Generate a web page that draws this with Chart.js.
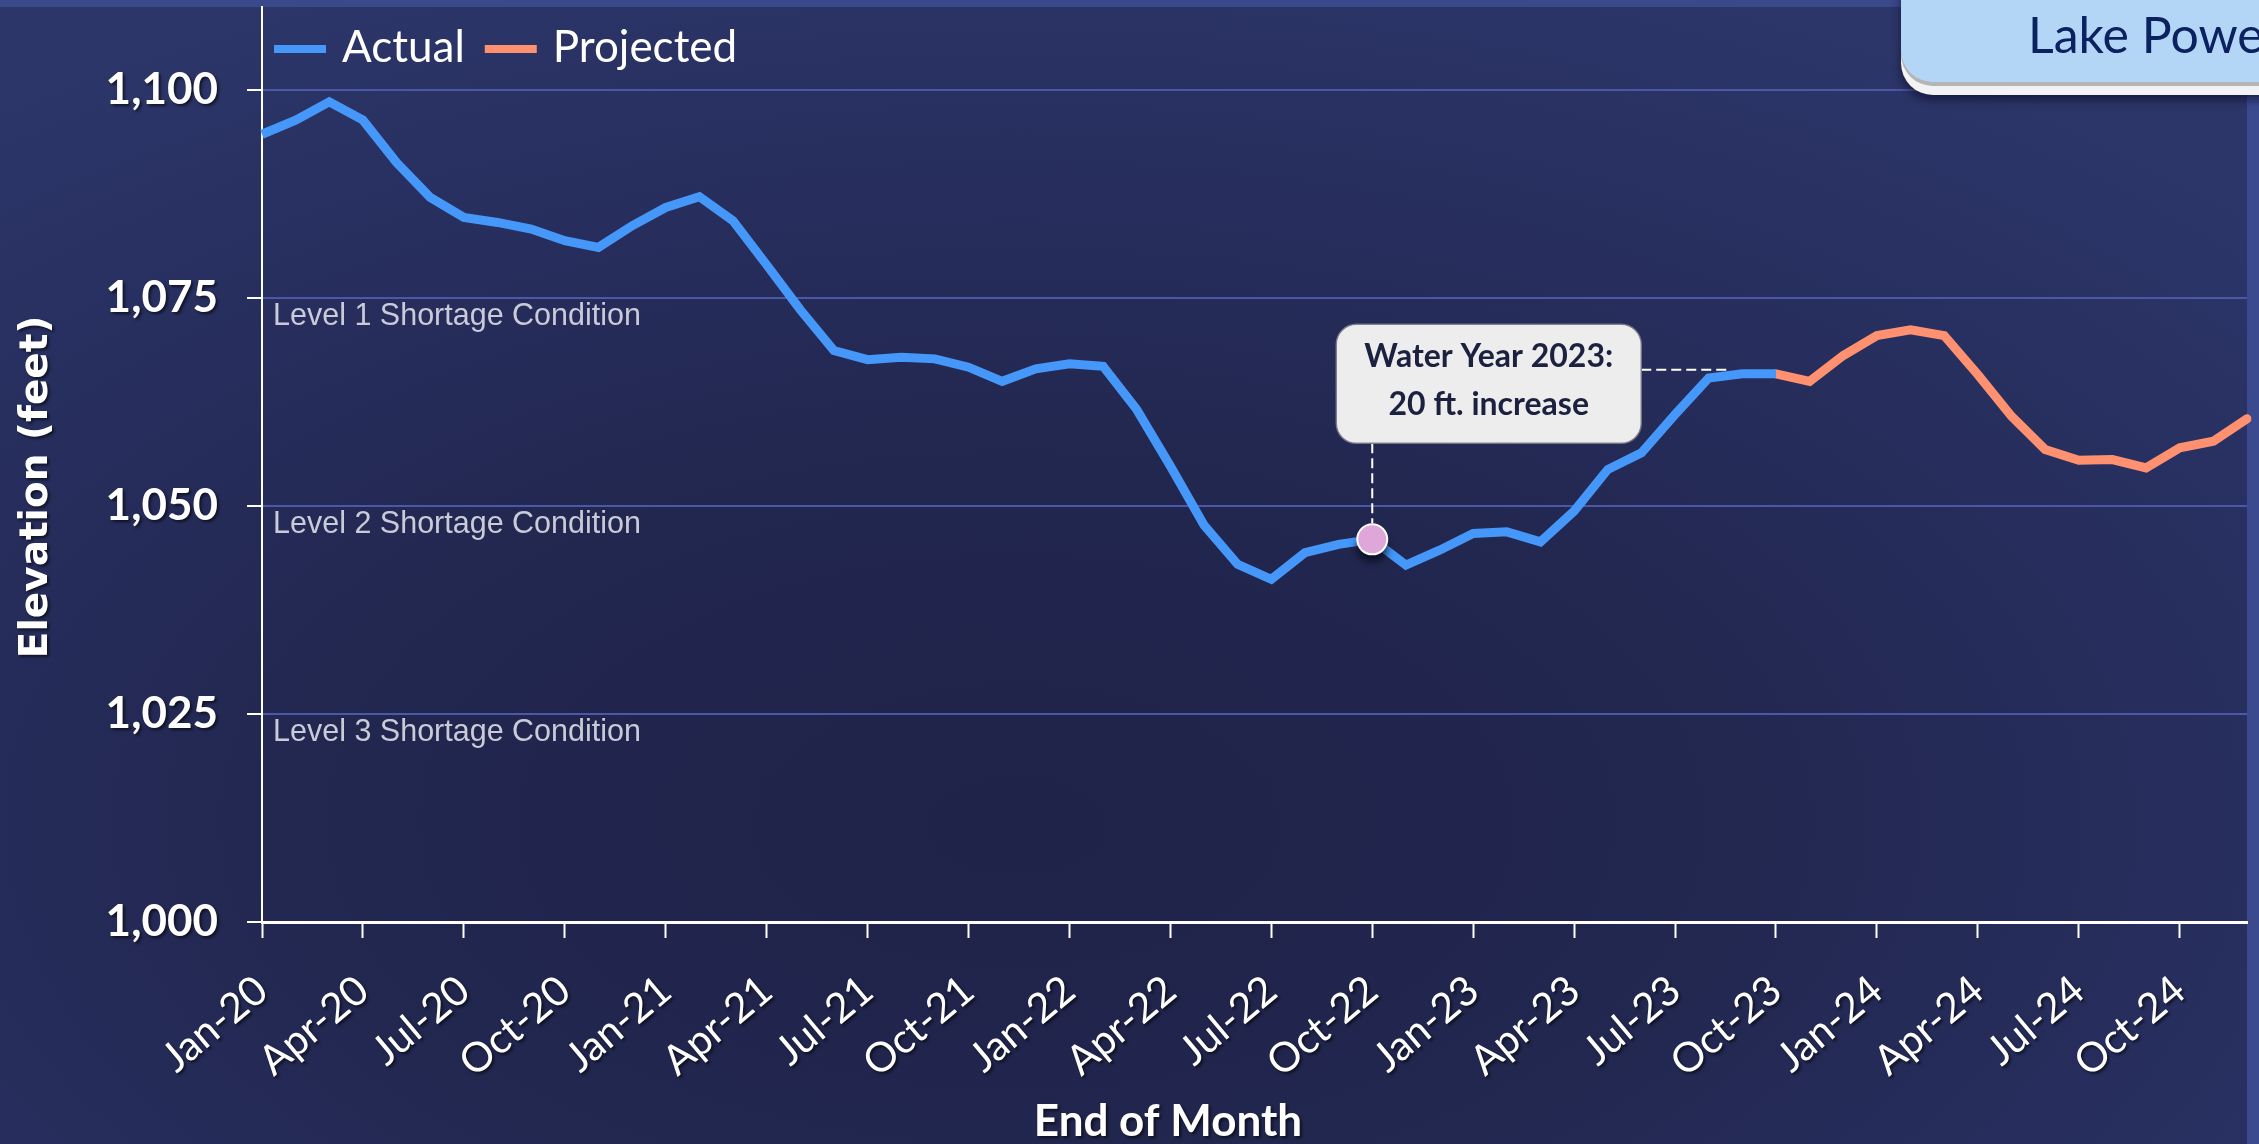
<!DOCTYPE html>
<html>
<head>
<meta charset="utf-8">
<script src="https://cdn.jsdelivr.net/npm/chart.js@4.4.1/dist/chart.umd.min.js"></script>
<style>
    html, body { margin: 0; padding: 0; width: 2259px; height: 1144px; overflow: hidden; }
    body {
        position: relative;
        background: radial-gradient(ellipse 75% 80% at 45% 72%, #1f2249 0%, #22274f 40%, #283061 78%, #2d3669 100%);
    }
    .band-top { position: absolute; left: 0; top: 0; width: 2259px; height: 7px; background: #3a488c; }
    .band-right { position: absolute; left: 2247px; top: 0; width: 12px; height: 1144px; background: #3b4a8f; }
    #chart { position: absolute; left: 0; top: 0; }
    .tab {
        position: absolute; left: 1901px; top: -30px; width: 420px; height: 112px;
        background: #b3d6f7; border-radius: 0 0 0 32px;
        box-shadow: 0 4px 0 #b5b5b5, 0 13px 0 #f3f3f3, 0 18px 10px rgba(10, 14, 40, 0.65);
    }
    .tab span {
        position: absolute; left: 127px; top: 39px; white-space: nowrap;
        font: 50px/50px Lato, sans-serif; color: #0b2160;
    }
</style>
</head>
<body>
<div class="band-top"></div>
<div class="band-right"></div>
<canvas id="chart" width="2259" height="1144"></canvas>
<div class="tab"><span>Lake Powell</span></div>

<script>
// End-of-month labels, Jan-20 .. Dec-24
const months = [
    'Jan-20', 'Feb-20', 'Mar-20', 'Apr-20', 'May-20', 'Jun-20', 'Jul-20', 'Aug-20', 'Sep-20', 'Oct-20', 'Nov-20', 'Dec-20',
    'Jan-21', 'Feb-21', 'Mar-21', 'Apr-21', 'May-21', 'Jun-21', 'Jul-21', 'Aug-21', 'Sep-21', 'Oct-21', 'Nov-21', 'Dec-21',
    'Jan-22', 'Feb-22', 'Mar-22', 'Apr-22', 'May-22', 'Jun-22', 'Jul-22', 'Aug-22', 'Sep-22', 'Oct-22', 'Nov-22', 'Dec-22',
    'Jan-23', 'Feb-23', 'Mar-23', 'Apr-23', 'May-23', 'Jun-23', 'Jul-23', 'Aug-23', 'Sep-23', 'Oct-23', 'Nov-23', 'Dec-23',
    'Jan-24', 'Feb-24', 'Mar-24', 'Apr-24', 'May-24', 'Jun-24', 'Jul-24', 'Aug-24', 'Sep-24', 'Oct-24', 'Nov-24', 'Dec-24'
];

// Observed elevation (feet), Jan-20 .. Oct-23
const actualElevation = [
    1094.7, 1096.4, 1098.6, 1096.4, 1091.3, 1087.1, 1084.7, 1084.1, 1083.3, 1081.9, 1081.1, 1083.7,
    1085.9, 1087.2, 1084.3, 1079.0, 1073.6, 1068.7, 1067.6, 1067.9, 1067.7, 1066.7, 1065.0, 1066.5,
    1067.1, 1066.8, 1061.6, 1054.8, 1047.7, 1043.0, 1041.2, 1044.4, 1045.4, 1046.0, 1042.9, 1044.7,
    1046.7, 1046.9, 1045.7, 1049.4, 1054.4, 1056.4, 1061.0, 1065.4, 1065.9, 1065.9
];

// Projected elevation (feet), Oct-23 .. Dec-24
const projectedStart = 'Oct-23';
const projectedElevation = [
    1065.9, 1065.0, 1068.1, 1070.5, 1071.2, 1070.5, 1065.8, 1060.8, 1056.8, 1055.5, 1055.6, 1054.6,
    1057.0, 1057.8, 1060.5
];

// Shortage thresholds
const shortageLevels = [1075, 1050, 1025];
const shortageNames = ['Level 1 Shortage Condition', 'Level 2 Shortage Condition', 'Level 3 Shortage Condition'];

// Callout
const markerMonth = 'Oct-22';
const waterYearEnd = 'Sep-23';
const calloutLines = ['Water Year 2023:', '20 ft. increase'];

const yTicks = [1000, 1025, 1050, 1075, 1100];
const legendNames = ['Actual', 'Projected'];

const projIdx = months.indexOf(projectedStart);
const actualSeries = months.map((m, i) => i < actualElevation.length ? actualElevation[i] : null);
const projectedSeries = months.map((m, i) => i >= projIdx ? projectedElevation[i - projIdx] : null);
const markerSeries = months.map((m, i) => m === markerMonth ? actualElevation[i] : null);

const textShadow = (ctx) => {
    ctx.shadowColor = 'rgba(0, 0, 0, 0.6)';
    ctx.shadowOffsetX = 2;
    ctx.shadowOffsetY = 2;
    ctx.shadowBlur = 3;
};

// Dark drop shadow under the tick labels
const labelShadow = {
    id: 'labelShadow',
    beforeDraw(chart) {
        Object.values(chart.scales).forEach(scale => {
            if (scale._shadowed) return;
            scale._shadowed = true;
            const drawLabels = scale.drawLabels;
            scale.drawLabels = function (area) {
                this.ctx.save();
                textShadow(this.ctx);
                drawLabels.call(this, area);
                this.ctx.restore();
            };
        });
    }
};

// Shortage condition captions under the grid lines
const shortageText = {
    id: 'shortageText',
    beforeDatasetsDraw(chart) {
        const { ctx, chartArea, scales: { y } } = chart;
        ctx.save();
        ctx.font = '30.5px "Liberation Sans", Arial, sans-serif';
        ctx.fillStyle = '#c9cbd8';
        ctx.textAlign = 'left';
        ctx.textBaseline = 'alphabetic';
        shortageLevels.forEach((lvl, i) => {
            ctx.fillText(shortageNames[i], chartArea.left + 11, y.getPixelForValue(lvl) + 27);
        });
        ctx.restore();
    }
};

// Soft shadow under the highlighted point
const markerShadow = {
    id: 'markerShadow',
    beforeDatasetDraw(chart, args) {
        if (args.index !== 0) return;
        const { ctx, scales: { x, y } } = chart;
        const mi = months.indexOf(markerMonth);
        ctx.save();
        ctx.filter = 'blur(4px)';
        ctx.fillStyle = 'rgba(5, 8, 25, 0.85)';
        ctx.beginPath();
        ctx.ellipse(x.getPixelForValue(mi), y.getPixelForValue(actualElevation[mi]) + 9, 15, 13, 0, 0, Math.PI * 2);
        ctx.fill();
        ctx.restore();
    }
};

// Callout box with dashed leaders
const callout = {
    id: 'callout',
    afterDatasetsDraw(chart) {
        const { ctx, scales: { x, y } } = chart;
        const mi = months.indexOf(markerMonth);
        const ei = months.indexOf(waterYearEnd);
        const mx = x.getPixelForValue(mi);
        const my = y.getPixelForValue(actualElevation[mi]);
        const bw = 305, bh = 119;
        const bx = mx - 36, by = my - 215;

        ctx.save();
        ctx.strokeStyle = '#ffffff';
        ctx.lineWidth = 2;
        ctx.setLineDash([10, 5]);
        ctx.beginPath();
        ctx.moveTo(mx, by + bh);
        ctx.lineTo(mx, my - 16);
        const hy = y.getPixelForValue(actualElevation[ei]) - 4;
        ctx.moveTo(bx + bw, hy);
        ctx.lineTo(x.getPixelForValue(ei) - 14, hy);
        ctx.stroke();
        ctx.setLineDash([]);

        ctx.beginPath();
        ctx.roundRect(bx, by, bw, bh, 20);
        ctx.fillStyle = '#ededed';
        ctx.fill();
        ctx.strokeStyle = 'rgba(120, 122, 135, 0.9)';
        ctx.lineWidth = 1.5;
        ctx.stroke();

        ctx.fillStyle = '#1c2140';
        ctx.font = 'bold 32px Lato, sans-serif';
        ctx.textAlign = 'center';
        ctx.textBaseline = 'alphabetic';
        ctx.fillText(calloutLines[0], bx + bw / 2, by + 43);
        ctx.fillText(calloutLines[1], bx + bw / 2, by + 91);
        ctx.restore();
    }
};

// Legend drawn inside the plot area, line samples taken from the datasets
const lineLegend = {
    id: 'lineLegend',
    afterDraw(chart) {
        const { ctx, chartArea } = chart;
        const y = chartArea.top + 42;
        let x = chartArea.left + 12;
        ctx.save();
        ctx.font = '44px Lato, sans-serif';
        ctx.textBaseline = 'alphabetic';
        ctx.textAlign = 'left';
        chart.data.datasets.filter(ds => legendNames.includes(ds.label)).forEach(ds => {
            ctx.strokeStyle = ds.borderColor;
            ctx.lineWidth = 8;
            ctx.beginPath();
            ctx.moveTo(x, y);
            ctx.lineTo(x + 52, y);
            ctx.stroke();
            ctx.fillStyle = '#ffffff';
            ctx.fillText(ds.label, x + 68, y + 13);
            x += 68 + ctx.measureText(ds.label).width + 20;
        });
        ctx.restore();
    }
};

// Axis titles
const axisTitles = {
    id: 'axisTitles',
    afterDraw(chart) {
        const ctx = chart.ctx;
        ctx.save();
        textShadow(ctx);
        ctx.fillStyle = '#ffffff';
        ctx.textAlign = 'center';
        ctx.textBaseline = 'middle';
        ctx.font = 'bold 44px Lato, sans-serif';
        ctx.fillText('End of Month', 1168, 1122);
        ctx.translate(37, 487);
        ctx.rotate(-Math.PI / 2);
        ctx.font = 'bold 39px "DejaVu Sans", Verdana, sans-serif';
        ctx.fillText('Elevation (feet)', 0, 0);
        ctx.restore();
    }
};

function makeChart() {
    new Chart(document.getElementById('chart'), {
        type: 'line',
        data: {
            labels: months,
            datasets: [
                {
                    label: 'Marker',
                    data: markerSeries,
                    showLine: false,
                    pointRadius: 15,
                    pointBackgroundColor: '#dea6d9',
                    pointBorderColor: '#ffffff',
                    pointBorderWidth: 2
                },
                {
                    label: 'Actual',
                    data: actualSeries,
                    borderColor: '#4597fa',
                    backgroundColor: '#4597fa',
                    borderWidth: 9,
                    pointRadius: 0,
                    tension: 0,
                    spanGaps: false
                },
                {
                    label: 'Projected',
                    data: projectedSeries,
                    borderColor: '#ff9170',
                    backgroundColor: '#ff9170',
                    borderWidth: 9,
                    borderCapStyle: 'round',
                    pointRadius: 0,
                    tension: 0,
                    spanGaps: false
                }
            ]
        },
        options: {
            responsive: false,
            animation: false,
            events: [],
            layout: { autoPadding: false, padding: { top: 7, right: 12, left: 0, bottom: 0 } },
            plugins: {
                tooltip: { enabled: false },
                legend: { display: false }
            },
            scales: {
                x: {
                    type: 'category',
                    offset: false,
                    afterBuildTicks: s => { s.ticks = s.ticks.filter(t => t.value % 3 === 0); },
                    afterFit: s => { s.height = 222; s.paddingLeft = 0; s.paddingRight = 0; },
                    border: { color: '#ffffff', width: 3 },
                    grid: {
                        drawOnChartArea: false,
                        drawTicks: true,
                        tickLength: 16,
                        tickColor: '#ffffff',
                        tickWidth: 2
                    },
                    ticks: {
                        autoSkip: false,
                        maxRotation: 40,
                        minRotation: 40,
                        padding: 28,
                        color: '#ffffff',
                        font: { family: 'Lato', size: 41 }
                    }
                },
                y: {
                    min: 1000,
                    max: 1110,
                    afterFit: s => { s.width = 262; s.paddingTop = 0; s.paddingBottom = 0; },
                    afterBuildTicks: s => { s.ticks = yTicks.map(v => ({ value: v })); },
                    border: { color: '#ffffff', width: 2 },
                    grid: {
                        color: c => (c.tick && c.tick.value === 1000) ? 'rgba(0,0,0,0)' : '#4b57a8',
                        lineWidth: 2,
                        drawTicks: true,
                        tickLength: 15,
                        tickColor: '#ffffff',
                        tickWidth: 2
                    },
                    ticks: {
                        padding: 29,
                        color: '#ffffff',
                        font: { family: 'Lato', size: 44, weight: 'bold' },
                        callback: v => v.toLocaleString('en-US')
                    }
                }
            }
        },
        plugins: [labelShadow, shortageText, markerShadow, callout, lineLegend, axisTitles]
    });
}

Promise.all([
    document.fonts.load('44px Lato'),
    document.fonts.load('bold 42px Lato'),
    document.fonts.load('30px "Liberation Sans"'),
    document.fonts.load('bold 36px "DejaVu Sans"')
]).then(makeChart, makeChart);
</script>
</body>
</html>
